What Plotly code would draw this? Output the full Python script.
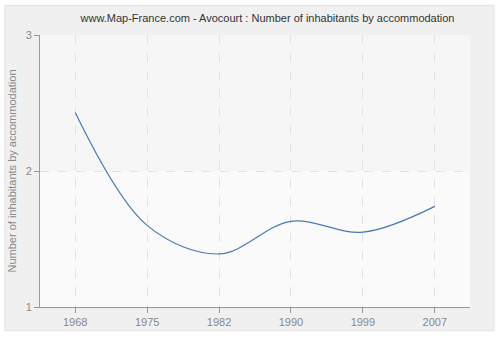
import plotly.graph_objects as go

years = ["1968", "1975", "1982", "1990", "1999", "2007"]
values = [2.43, 1.60, 1.39, 1.63, 1.55, 1.74]
y_ticks = [1, 2, 3]

FONT = "Liberation Sans"

fig = go.Figure()
fig.add_trace(go.Scatter(
    x=years, y=values, mode="lines",
    line=dict(color="#4a7ab5", width=1.2, shape="spline", smoothing=1.0),
    hoverinfo="skip",
))

# outer panel
fig.add_shape(type="rect", xref="paper", yref="paper",
              x0=-0.0814, x1=1.0558, y0=-0.0873, y1=1.109,
              line=dict(width=1, color="#e2e2e2"), fillcolor="#f0f0f0", layer="below")
# plot area background (upper band hatched look, lower band lighter)
fig.add_shape(type="rect", xref="paper", yref="y",
              x0=0, x1=1, y0=y_ticks[1], y1=y_ticks[2],
              line=dict(width=0), fillcolor="#f6f6f6", layer="below")
fig.add_shape(type="rect", xref="paper", yref="y",
              x0=0, x1=1, y0=y_ticks[0], y1=y_ticks[1],
              line=dict(width=0), fillcolor="#fafafa", layer="below")

fig.update_layout(
    width=500, height=340,
    margin=dict(l=40, r=30, t=35, b=30),
    paper_bgcolor="#ffffff",
    plot_bgcolor="#f9f9f9",
    showlegend=False,
    title=dict(text="www.Map-France.com - Avocourt : Number of inhabitants by accommodation",
               x=0.535, xanchor="center", y=0.948, yanchor="middle",
               font=dict(family=FONT, size=11, color="#333333")),
    font=dict(family=FONT, size=11, color="#888888"),
    xaxis=dict(
        type="category", range=[-0.49, 5.49],
        showgrid=True, gridcolor="#e2e2e2", griddash="dash", gridwidth=1,
        showline=True, linecolor="#999999", linewidth=1,
        ticks="outside", ticklen=5, tickcolor="#999999",
        tickfont=dict(family=FONT, size=11, color="#888888"),
        zeroline=False, fixedrange=True, layer="above traces",
    ),
    yaxis=dict(
        range=[1, 3], tickvals=y_ticks, ticktext=[str(v) for v in y_ticks],
        showgrid=True, gridcolor="#e2e2e2", griddash="dash", gridwidth=1,
        showline=True, linecolor="#999999", linewidth=1,
        ticks="outside", ticklen=5, tickcolor="#999999",
        tickfont=dict(family=FONT, size=11, color="#888888"),
        title=dict(text="Number of inhabitants by accommodation",
                   font=dict(family=FONT, size=11, color="#888888"), standoff=6),
        zeroline=False, fixedrange=True,
    ),
)
fig.write_html("out.html")
